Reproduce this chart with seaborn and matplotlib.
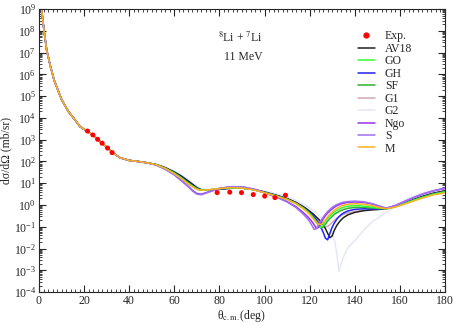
import numpy as np
import pandas as pd
import matplotlib
matplotlib.use("Agg")
import matplotlib.pyplot as plt
import seaborn as sns
from matplotlib.ticker import MultipleLocator, LogLocator, NullFormatter
from matplotlib.lines import Line2D

# forward angles: all potentials coincide (log10 of dsigma/dOmega, mb/sr)
theta_fwd = [1.0, 1.2, 2.2, 3.4, 5, 6.7, 8.5, 10.1, 13, 16, 18.2, 21.2, 24, 27,
             30, 33, 36, 40, 44, 48]
logxs_fwd = [9.25, 8.95, 8.04, 7.12, 6.40, 5.74, 5.25, 4.83, 4.30, 3.91, 3.60,
             3.40, 3.20, 2.93, 2.65, 2.38, 2.17, 2.05, 2.00, 1.94]

# larger angles, one list per potential
theta = [52, 56, 60, 63, 66, 68, 70, 72, 75, 80, 85, 90, 95, 100, 105, 110,
         114, 117, 119, 120, 121, 122, 123, 124, 125, 126, 127, 128, 129, 130,
         131, 132, 133, 134, 135, 137, 140, 144, 148, 151, 154, 158, 162, 166,
         170, 175, 180]

logxs_AV18 = [1.86, 1.72, 1.52, 1.34, 1.12, 0.96, 0.80, 0.70, 0.68, 0.72, 0.77,
              0.78, 0.72, 0.60, 0.46, 0.30, 0.12, -0.06, -0.20, -0.28, -0.36,
              -0.45, -0.55, -0.65, -0.76, -0.90, -1.08, -1.30, -1.50, -1.42,
              -1.15, -0.95, -0.80, -0.68, -0.58, -0.45, -0.34, -0.26, -0.22,
              -0.20, -0.17, -0.05, 0.10, 0.25, 0.40, 0.55, 0.65]
logxs_GO = [1.85, 1.69, 1.46, 1.25, 1.01, 0.87, 0.74, 0.68, 0.69, 0.75, 0.79,
            0.78, 0.71, 0.57, 0.43, 0.26, 0.07, -0.13, -0.30, -0.40, -0.52,
            -0.65, -0.80, -0.95, -1.02, -0.92, -0.76, -0.62, -0.50, -0.40,
            -0.32, -0.25, -0.19, -0.14, -0.10, -0.05, -0.03, -0.05, -0.10,
            -0.14, -0.17, -0.08, 0.06, 0.21, 0.35, 0.50, 0.60]
logxs_GH = [1.85, 1.70, 1.48, 1.28, 1.05, 0.90, 0.76, 0.69, 0.69, 0.74, 0.78,
            0.78, 0.71, 0.58, 0.44, 0.28, 0.09, -0.10, -0.25, -0.34, -0.44,
            -0.55, -0.68, -0.83, -1.02, -1.25, -1.52, -1.60, -1.30, -1.02,
            -0.82, -0.66, -0.54, -0.44, -0.37, -0.27, -0.20, -0.17, -0.18,
            -0.18, -0.17, -0.07, 0.07, 0.22, 0.37, 0.52, 0.62]
logxs_SF = [1.85, 1.69, 1.47, 1.26, 1.03, 0.88, 0.75, 0.69, 0.69, 0.75, 0.79,
            0.78, 0.71, 0.58, 0.43, 0.27, 0.08, -0.12, -0.28, -0.38, -0.49,
            -0.61, -0.75, -0.90, -1.05, -1.02, -0.88, -0.74, -0.62, -0.52,
            -0.43, -0.36, -0.30, -0.25, -0.21, -0.15, -0.11, -0.11, -0.14,
            -0.16, -0.17, -0.07, 0.07, 0.22, 0.36, 0.51, 0.61]
logxs_G1 = [1.86, 1.71, 1.50, 1.31, 1.09, 0.94, 0.79, 0.70, 0.68, 0.73, 0.77,
            0.78, 0.72, 0.59, 0.45, 0.29, 0.11, -0.08, -0.22, -0.30, -0.40,
            -0.50, -0.62, -0.74, -0.86, -0.96, -1.00, -0.98, -0.90, -0.80,
            -0.70, -0.61, -0.54, -0.48, -0.43, -0.36, -0.30, -0.24, -0.20,
            -0.18, -0.17, -0.06, 0.09, 0.24, 0.39, 0.54, 0.64]
logxs_G2 = [1.87, 1.74, 1.55, 1.38, 1.18, 1.02, 0.87, 0.76, 0.70, 0.72, 0.76,
            0.78, 0.74, 0.64, 0.52, 0.38, 0.22, 0.06, -0.06, -0.13, -0.20,
            -0.28, -0.37, -0.46, -0.56, -0.67, -0.80, -0.95, -1.10, -1.30,
            -1.60, -2.20, -3.05, -2.70, -2.40, -1.95, -1.65, -1.15, -0.75,
            -0.55, -0.33, -0.05, 0.20, 0.40, 0.55, 0.68, 0.75]
logxs_Ngo = [1.84, 1.65, 1.40, 1.15, 0.88, 0.68, 0.53, 0.50, 0.60, 0.77, 0.84,
             0.83, 0.73, 0.56, 0.38, 0.16, -0.08, -0.33, -0.52, -0.63, -0.76,
             -0.90, -1.08, -1.02, -0.82, -0.64, -0.49, -0.37, -0.27, -0.18,
             -0.10, -0.04, 0.01, 0.05, 0.08, 0.12, 0.14, 0.12, 0.04, -0.06,
             -0.15, -0.02, 0.16, 0.34, 0.50, 0.65, 0.76]
logxs_S = [1.83, 1.64, 1.38, 1.12, 0.86, 0.65, 0.50, 0.47, 0.58, 0.76, 0.84,
           0.84, 0.74, 0.57, 0.38, 0.14, -0.12, -0.40, -0.62, -0.76, -0.93,
           -1.12, -1.08, -0.90, -0.72, -0.56, -0.42, -0.30, -0.20, -0.11,
           -0.04, 0.02, 0.06, 0.10, 0.13, 0.16, 0.18, 0.15, 0.06, -0.05,
           -0.14, -0.03, 0.15, 0.33, 0.50, 0.66, 0.78]
logxs_M = [1.85, 1.68, 1.44, 1.22, 0.98, 0.84, 0.72, 0.68, 0.70, 0.76, 0.80,
           0.78, 0.70, 0.56, 0.42, 0.25, 0.06, -0.15, -0.33, -0.43, -0.55,
           -0.68, -0.80, -0.88, -0.90, -0.82, -0.68, -0.54, -0.42, -0.32,
           -0.23, -0.16, -0.10, -0.05, -0.01, 0.04, 0.06, 0.04, -0.04, -0.12,
           -0.17, -0.10, 0.04, 0.18, 0.32, 0.47, 0.56]

# experimental points
theta_exp = [21.5, 23.9, 26.0, 28.0, 30.4, 32.4, 79.0, 84.6, 89.8, 95.0,
             100.1, 104.6, 109.3]
logxs_exp = [3.40, 3.22, 3.02, 2.84, 2.62, 2.41, 0.57, 0.59, 0.57, 0.48,
             0.41, 0.34, 0.45]

models = ["AV18", "GO", "GH", "SF", "G1", "G2", "Ngo", "S", "M"]
model_data = [logxs_AV18, logxs_GO, logxs_GH, logxs_SF, logxs_G1, logxs_G2,
              logxs_Ngo, logxs_S, logxs_M]
colors = {"AV18": "#222222", "GO": "#33ff33", "GH": "#2222ff",
          "SF": "#33b033", "G1": "#d0a8b0", "G2": "#e6e6fa",
          "Ngo": "#9933ee", "S": "#a070f0", "M": "#ffb020"}

rows = []
for name, vals in zip(models, model_data):
    for t, v in zip(theta_fwd + theta, logxs_fwd + vals):
        rows.append((name, t, 10 ** v))
df = pd.DataFrame(rows, columns=["model", "theta", "xs"])
df_exp = pd.DataFrame({"theta": theta_exp, "xs": 10 ** np.array(logxs_exp)})

sns.set_style("ticks")
plt.rcParams["font.family"] = ["Liberation Serif", "DejaVu Serif"]
plt.rcParams["mathtext.fontset"] = "stix"

fig = plt.figure(figsize=(4.62, 3.26), dpi=100)
ax = fig.add_axes([0.0844, 0.104, 0.8786, 0.868])

# draw order: pale G2 first, orange M last (it is on top at small angles)
draw_order = ["G2", "G1", "AV18", "GH", "SF", "GO", "Ngo", "S", "M"]
sns.lineplot(data=df, x="theta", y="xs", hue="model", hue_order=draw_order,
             palette=colors, estimator=None, sort=True, lw=1.1, ax=ax,
             legend=False)
sns.scatterplot(data=df_exp, x="theta", y="xs", color="red", s=13,
                edgecolor="none", ax=ax, zorder=5)

ax.set_yscale("log")
ax.set_xlim(0, 180)
ax.set_ylim(1e-4, 1e9)
ax.xaxis.set_major_locator(MultipleLocator(20))
ax.xaxis.set_minor_locator(MultipleLocator(2))
ax.yaxis.set_major_locator(LogLocator(base=10, numticks=20))
ax.yaxis.set_minor_locator(LogLocator(base=10, subs=np.arange(2, 10), numticks=200))
ax.yaxis.set_minor_formatter(NullFormatter())
ax.tick_params(which="both", direction="in", top=True, right=True,
               labelsize=8.5, pad=2)
ax.tick_params(which="major", length=5, width=0.8)
ax.tick_params(which="minor", length=2.5, width=0.6)
for sp in ax.spines.values():
    sp.set_linewidth(0.8)

ax.set_xlabel(r"θ$_{\mathrm{c.m.}}$(deg)", fontsize=8.5, labelpad=1)
ax.set_ylabel("dσ/dΩ (mb/sr)", fontsize=8.5, labelpad=1)

ax.text(0.496, 0.9, r"$^{8}$Li + $^{7}$Li", transform=ax.transAxes,
        ha="center", va="center", fontsize=8.5)
ax.text(0.504, 0.83, "11 MeV", transform=ax.transAxes,
        ha="center", va="center", fontsize=8.5)

handles = [Line2D([], [], ls="none", marker="o", color="red", ms=3.5)]
handles += [Line2D([], [], color=colors[m], lw=1.1) for m in models]
ax.legend(handles, ["Exp."] + models, loc="upper left",
          bbox_to_anchor=(0.785, 0.925), frameon=False, fontsize=8.5,
          handlelength=1.5, handletextpad=0.8, labelspacing=0.04,
          borderpad=0, borderaxespad=0)

fig.savefig("out.png", dpi=100)
